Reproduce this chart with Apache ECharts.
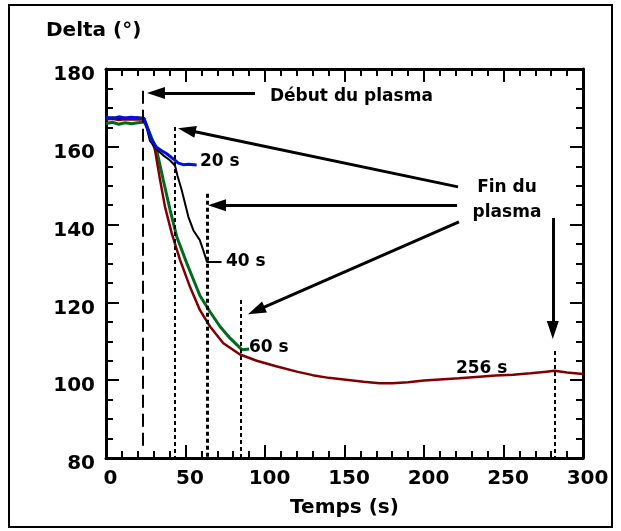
<!DOCTYPE html>
<html lang="fr">
<head>
    <meta charset="UTF-8">
    <title>Delta en fonction du temps</title>
    <script src="https://cdn.jsdelivr.net/npm/echarts@6.0.0/dist/echarts.min.js"></script>
    <style>
        html, body { margin: 0; padding: 0; background: #fff; }
        #chart { width: 621px; height: 531px; }
    </style>
</head>
<body>
    <div id="chart"></div>
    <script>
        // courbes [temps (s), delta (°)]
        const run256 = [[0,167.0],[4,167.2],[8,166.9],[12,167.1],[16,167.0],[20,167.1],[24,167.0],[26.6,164.3],
            [30.8,159.2],[34,151.5],[37.1,144.6],[41.3,137.8],[46.5,131.0],[52.8,124.0],[59.1,118.0],
            [65.4,113.8],[73.8,109.5],[84.3,106.6],[94.8,105.0],[107,103.6],[120,102.2],[130,101.3],
            [140,100.6],[151,100.1],[162,99.6],[172,99.2],[180,99.2],[190,99.5],[200,99.9],[210,100.2],
            [222,100.5],[235,100.9],[245,101.2],[256,101.4],[267,101.8],[277,102.2],[282,102.4],
            [290,102.0],[300,101.6]];
        const run60 = [[0,166.0],[4,166.3],[8,165.8],[12,166.2],[16,165.9],[20,166.2],[24,166.4],[27,164.0],
            [31.8,159.2],[36,151.5],[40.3,143.8],[44.5,136.9],[50.7,130.2],[59.1,121.7],[65.4,117.6],
            [71.7,113.8],[78,110.8],[84.3,108.3],[86,107.8],[90,108.0]];
        const run20 = [[0,167.6],[4,167.3],[8,167.7],[12,167.4],[16,167.6],[20,167.4],[24,167.3],[26,165.0],
            [28.7,161.7],[31.8,159.9],[35,159.0],[38.2,158.2],[41,157.3],[43.5,156.5],[45.5,155.8],
            [48.6,155.4],[52,155.5],[57,155.3]];
        const run40 = [[0,167.4],[4,167.6],[8,167.3],[12,167.5],[16,167.4],[20,167.6],[24,167.4],[27.7,161.5],
            [31.8,159.3],[36,157.8],[40,156.6],[43.4,155.2],[45,152.5],[47.6,148.9],[51.8,142.0],
            [55,138.5],[59,136.0],[62.3,132.0],[63.5,130.4],[66,130.4],[72.7,130.4]];

        // repères verticaux : [temps, delta haut, delta bas]
        const startLine = [23.3, 174.4, 83.1];
        const endLines = [[43.4, 165.1, 80], [63.5, 147.9, 80], [85, 120.6, 80], [282, 107.5, 80]];

        // flèches : [x départ, y départ, x pointe, y pointe]
        const arrows = [
            [93.7, 173.8, 31.4, 173.8],
            [221.4, 149.7, 50.8, 164.3],
            [220.8, 145.0, 69.8, 145.0],
            [222.0, 140.7, 94.5, 117.9],
            [281.0, 141.7, 281.0, 112.9]
        ];

        // textes : [texte, temps, delta, alignement]
        const notes = [
            ['Début du plasma', 103.1, 172.8, 'left'],
            ['Fin du', 252.2, 149.4, 'center'],
            ['plasma', 252.2, 143.0, 'center'],
            ['20 s', 59.1, 156.1, 'left'],
            ['40 s', 75.5, 130.4, 'left'],
            ['60 s', 89.9, 108.5, 'left'],
            ['256 s', 220.1, 102.9, 'left']
        ];

        const font = 'DejaVu Sans';
        const chart = echarts.init(document.getElementById('chart'));

        const tickStyle = { show: true, inside: true, length: 13, lineStyle: { color: '#000', width: 2 } };
        const minorStyle = { show: true, length: 7, lineStyle: { color: '#000', width: 2 } };
        const lineAxis = { onZero: false, lineStyle: { color: '#000', width: 3 } };

        const xBase = {
            type: 'value', min: 0, max: 300, interval: 50,
            axisLine: lineAxis, axisTick: tickStyle,
            minorTick: Object.assign({ splitNumber: 5 }, minorStyle),
            splitLine: { show: false }
        };
        const yBase = {
            type: 'value', min: 80, max: 180, interval: 20,
            axisLine: lineAxis, axisTick: tickStyle,
            minorTick: Object.assign({ splitNumber: 4 }, minorStyle),
            splitLine: { show: false }
        };

        function curve(name, data, color, width) {
            return {
                name: name, type: 'line', data: data, showSymbol: false, symbol: 'none',
                lineStyle: { color: color, width: width }, silent: true
            };
        }

        const option = {
            animation: false,
            backgroundColor: '#fff',
            title: {
                text: 'Delta (°)', left: 46, top: 21, padding: 0,
                textStyle: { fontFamily: font, fontSize: 20, fontWeight: 'bold', color: '#000' }
            },
            grid: { left: 106, right: 38, top: 69, bottom: 73 },
            xAxis: [
                Object.assign({}, xBase, {
                    position: 'bottom',
                    name: 'Temps (s)', nameLocation: 'middle', nameGap: 40,
                    nameTextStyle: { fontFamily: font, fontSize: 20, fontWeight: 'bold', color: '#000' },
                    axisLabel: { fontFamily: font, fontSize: 20, fontWeight: 'bold', color: '#000',
                        margin: 11, padding: [0, 0, 0, 9] }
                }),
                Object.assign({}, xBase, { position: 'top', axisLabel: { show: false } })
            ],
            yAxis: [
                Object.assign({}, yBase, {
                    position: 'left',
                    axisLabel: { fontFamily: font, fontSize: 20, fontWeight: 'bold', color: '#000',
                        margin: 11, verticalAlign: 'top', lineHeight: 12 }
                }),
                Object.assign({}, yBase, { position: 'right', axisLabel: { show: false } })
            ],
            graphic: [{
                type: 'rect', silent: true,
                shape: { x: 9, y: 5, width: 603, height: 522 },
                style: { fill: 'none', stroke: '#000', lineWidth: 2 }
            }],
            series: [
                curve('60 s', run60, '#006a1e', 3),
                curve('256 s', run256, '#800000', 2.5),
                curve('40 s', run40, '#000000', 2),
                curve('20 s', run20, '#0010e0', 3),
                {
                    type: 'line', data: [], silent: true,
                    markLine: {
                        silent: true, symbol: 'none', label: { show: false },
                        data: [[
                            { coord: [startLine[0], startLine[1]], lineStyle: { color: '#000', width: 2, type: [13, 6] } },
                            { coord: [startLine[0], startLine[2]] }
                        ]].concat(endLines.map((l, i) => [
                            { coord: [l[0], l[1]], lineStyle: { color: '#000', width: i === 1 ? 3 : 2, type: [4, 3] } },
                            { coord: [l[0], l[2]] }
                        ]))
                    }
                },
                {
                    type: 'line', data: [], silent: true,
                    markLine: {
                        silent: true, symbol: ['none', 'triangle'], symbolSize: [12, 18],
                        label: { show: false },
                        lineStyle: { color: '#000', width: 3, type: 'solid' },
                        data: arrows.map(a => [{ coord: [a[0], a[1]] }, { coord: [a[2], a[3]] }])
                    },
                    markPoint: {
                        silent: true, symbol: 'circle', symbolSize: 0,
                        data: notes.map(n => ({
                            name: n[0], coord: [n[1], n[2]],
                            label: {
                                show: true, formatter: '{b}',
                                position: n[3] === 'left' ? 'right' : 'inside', distance: 0,
                                fontFamily: font, fontSize: 17, fontWeight: 'bold', color: '#000'
                            }
                        }))
                    }
                }
            ]
        };

        chart.setOption(option);
    </script>
</body>
</html>
